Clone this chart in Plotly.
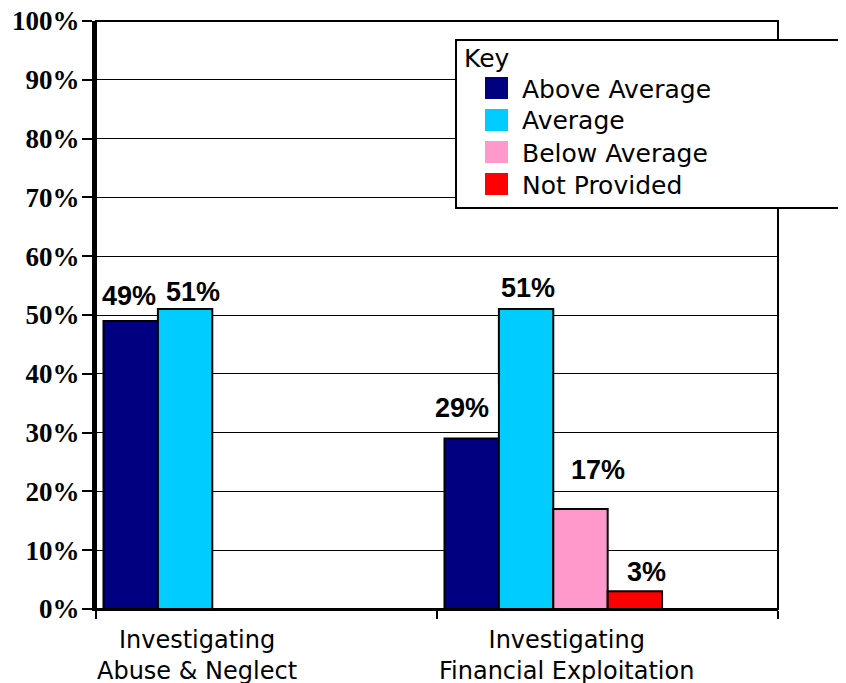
import plotly.graph_objects as go

# ---- data ----
categories = ["Investigating<br>Abuse & Neglect", "Investigating<br>Financial Exploitation"]
series_names = ["Above Average", "Average", "Below Average", "Not Provided"]
above_average = [49, 29]
average = [51, 51]
below_average = [None, 17]
not_provided = [None, 3]
y_ticks = [0, 10, 20, 30, 40, 50, 60, 70, 80, 90, 100]
y_tick_labels = [f"{v}%" for v in y_ticks]

series_values = [above_average, average, below_average, not_provided]
colors = ["#000080", "#00CCFF", "#FF99CC", "#FF0000"]

# ---- layout geometry (pixels) ----
OFF = 8  # page body margin
W, H = 846 - OFF, 683 - OFF
ML, MT = 96 - OFF, 21 - OFF
MR = W - (778 - OFF)
MB = H - (609 - OFF)
PW = W - ML - MR
PH = H - MT - MB


def px_x(x):
    """reference-screen x pixel -> paper coordinate"""
    return (x - OFF - ML) / PW


def px_y(y):
    """reference-screen y pixel -> paper coordinate"""
    return (H - MB - (y - OFF)) / PH


bar_w = 0.1595
first_offset = -0.478

# label nudges (pixels) per series, per category: (xshift, yshift)
label_nudges = [
    [(-1.5, 25), (-9.5, 30)],
    [(7.5, 17), (1.5, 21)],
    [None, (17.5, 39)],
    [None, (11.5, 19)],
]

fig = go.Figure()
annotations = []
for i, (name, vals) in enumerate(zip(series_names, series_values)):
    off = first_offset + i * bar_w
    fig.add_trace(go.Bar(
        x=list(range(len(categories))), y=vals, name=name,
        width=bar_w, offset=off,
        marker=dict(color=colors[i], line=dict(color="black", width=2)),
        showlegend=False, hoverinfo="skip",
    ))
    for ci, v in enumerate(vals):
        if v is None:
            continue
        xs, ys = label_nudges[i][ci]
        boxed = (i == 0 and ci == 1)
        annotations.append(dict(
            x=ci + off + bar_w / 2, y=v, xref="x", yref="y",
            text=f"{v}%", showarrow=False, xanchor="center", yanchor="middle",
            xshift=xs, yshift=ys,
            font=dict(family="Liberation Sans", size=27, color="black", weight="bold"),
            bgcolor="white" if boxed else "rgba(0,0,0,0)",
            borderpad=8 if boxed else 1,
        ))

# category labels
cat_shift = [-70, -41]
for ci, c in enumerate(categories):
    annotations.append(dict(
        x=ci, y=0, xref="x", yref="paper", text=c, showarrow=False,
        xanchor="center", yanchor="top", xshift=cat_shift[ci], yshift=-15,
        font=dict(family="DejaVu Sans", size=24, color="black"),
    ))

shapes = [
    # plot-area border (top + right)
    dict(type="rect", xref="paper", yref="paper", x0=0, x1=1, y0=0, y1=1,
         line=dict(color="black", width=2), layer="below"),
    # legend box
    dict(type="rect", xref="paper", yref="paper",
         x0=px_x(456), x1=px_x(880), y0=px_y(208), y1=px_y(40),
         line=dict(color="black", width=2), fillcolor="white", layer="above"),
]

# manual legend ("Key")
annotations.append(dict(
    x=px_x(462), y=px_y(58), xref="paper", yref="paper", text="Key",
    showarrow=False, xanchor="left", yanchor="middle",
    font=dict(family="DejaVu Sans", size=25, color="black"),
))
row_y = [88, 120, 152, 184]
for i, name in enumerate(series_names):
    shapes.append(dict(
        type="rect", xref="paper", yref="paper",
        x0=px_x(485), x1=px_x(508), y0=px_y(row_y[i] + 11), y1=px_y(row_y[i] - 11),
        line=dict(width=0), fillcolor=colors[i], layer="above",
    ))
    annotations.append(dict(
        x=px_x(520), y=px_y(row_y[i] + 1), xref="paper", yref="paper", text=name,
        showarrow=False, xanchor="left", yanchor="middle",
        font=dict(family="DejaVu Sans", size=25, color="black"),
    ))

fig.update_layout(
    template="none",
    width=W, height=H,
    margin=dict(l=ML, r=MR, t=MT, b=MB, pad=0),
    paper_bgcolor="white", plot_bgcolor="white",
    barmode="overlay",
    showlegend=False,
    annotations=annotations,
    shapes=shapes,
    xaxis=dict(
        type="linear", range=[-0.5, 1.5], automargin=False,
        tickvals=[-0.5, 0.5, 1.5], showticklabels=False,
        ticks="outside", ticklen=8, tickwidth=2, tickcolor="black",
        showline=True, linecolor="black", linewidth=2,
        showgrid=False, zeroline=False,
    ),
    yaxis=dict(
        range=[0, 100], tickmode="array", tickvals=y_ticks, ticktext=y_tick_labels,
        automargin=False, ticklabeloverflow="allow",
        ticks="outside", ticklen=10, tickwidth=2, tickcolor="black",
        ticklabelstandoff=-3,
        tickfont=dict(family="Liberation Serif", size=27, color="black", weight="bold"),
        showline=True, linecolor="black", linewidth=4,
        showgrid=True, gridcolor="black", gridwidth=1,
        zeroline=False,
    ),
)

fig.write_html("out.html")
